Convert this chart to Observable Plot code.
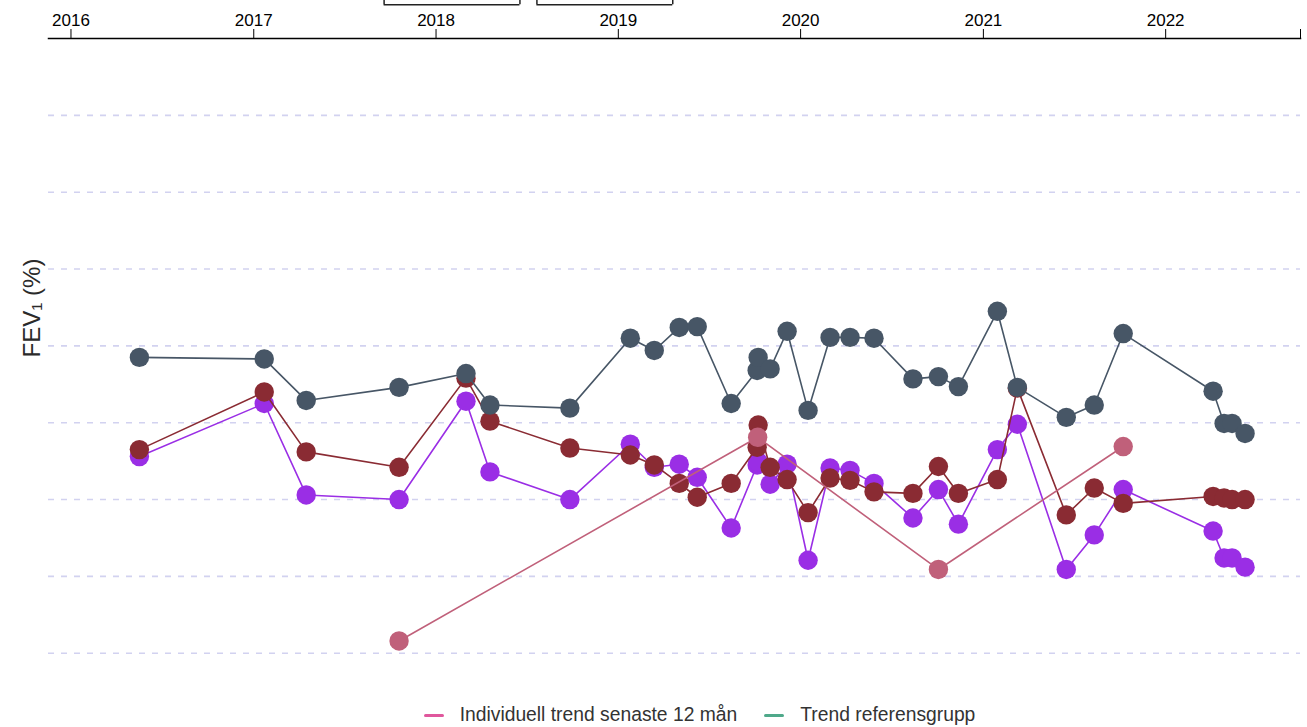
<!DOCTYPE html>
<html>
<head>
<meta charset="utf-8">
<script src="https://cdn.jsdelivr.net/npm/d3@7"></script>
<script src="https://cdn.jsdelivr.net/npm/@observablehq/plot@0.6"></script>
<style>
  html, body { margin: 0; padding: 0; background: #fff; }
  body { width: 1307px; font-family: "Liberation Sans", Arial, sans-serif; }
  #legend { display: flex; justify-content: center; align-items: center; gap: 27px;
            margin-left: 92px; margin-top: 3px; font-size: 19.3px; color: #333; height: 24px; }
  .item { display: flex; align-items: center; gap: 16px; }
  .sw { width: 20px; height: 3px; border-radius: 2px; display: inline-block; }
</style>
</head>
<body>
<div id="chart"></div>
<div id="legend"></div>
<script>
// Measurement dates
const dates = ["2016-05-17","2017-01-22","2017-04-16","2017-10-19","2018-03-02","2018-04-19",
  "2018-09-26","2019-01-25","2019-03-14","2019-05-03","2019-06-08","2019-08-15","2019-10-06",
  "2019-10-08","2019-11-01","2019-12-05","2020-01-16","2020-02-29","2020-04-09","2020-05-27",
  "2020-08-13","2020-10-03","2020-11-12","2021-01-29","2021-03-10","2021-06-16","2021-08-11",
  "2021-10-08","2022-04-06","2022-04-28","2022-05-14","2022-06-09"];
// Series values (FEV1 %)
const grayValues = [78.5,78.3,72.9,74.6,76.4,72.3,71.9,81.0,79.4,82.4,82.5,72.5,76.8,78.5,77.0,81.9,
  71.6,81.1,81.1,81.0,75.7,76.0,74.7,84.5,74.6,70.7,72.3,81.6,74.1,69.9,69.9,68.6];
const redValues = [66.5,74.0,66.2,64.2,75.8,70.2,66.7,65.8,64.5,62.1,60.3,62.1,66.8,69.7,64.2,62.6,
  58.3,62.8,62.5,61.0,60.8,64.3,60.8,62.6,74.5,58.0,61.5,59.5,60.4,60.2,60.0,60.0];
const purpleValues = [65.6,72.5,60.6,60.0,72.8,63.6,60.0,67.2,64.2,64.6,62.9,56.3,64.5,64.9,62.0,64.6,
  52.1,64.1,63.8,62.1,57.6,61.3,56.8,66.5,69.8,50.9,55.4,61.3,55.9,52.4,52.4,51.2];
// Pink series
const pinkDates = ["2017-10-19","2019-10-07","2020-10-03","2021-10-08"];
const pinkValues = [41.6,68.1,50.9,66.9];
// Period brackets above the axis
const periodStarts = ["2017-09-19","2018-07-22"];
const periodEnds = ["2018-06-18","2019-04-20"];
// Grid and axis ticks
const gridValues = [40,50,60,70,80,90,100,110];
const yearTicks = ["2016","2017","2018","2019","2020","2021","2022"];
const xDomain = ["2015-11-17","2022-09-28"];
const yDomain = [34.5, 120];
// Legend
const legendLabels = ["Individuell trend senaste 12 mån","Trend referensgrupp"];
const legendColors = ["#e0579d","#4fa98a"];

const parse = d3.utcParse("%Y-%m-%d");
const mk = (vals) => dates.map((d, i) => ({date: parse(d), value: vals[i]}));
const gray = mk(grayValues), red = mk(redValues), purple = mk(purpleValues);
const pink = pinkDates.map((d, i) => ({date: parse(d), value: pinkValues[i]}));
const periods = periodStarts.map((s, i) => ({start: parse(s), end: parse(periodEnds[i])}));
const xd = xDomain.map(parse);
const ticks = yearTicks.map(y => d3.utcParse("%Y")(y)).concat([xd[1]]);

const C = {gray: "#475666", red: "#8a2b33", purple: "#9a2ee5", pink: "#c0607a"};
const series = (data, color) => [
  Plot.line(data, {x: "date", y: "value", stroke: color, strokeWidth: 1.6}),
  Plot.dot(data, {x: "date", y: "value", fill: color, r: 9.7})
];

const chart = Plot.plot({
  width: 1307,
  height: 700,
  marginTop: 38,
  marginBottom: 5,
  marginLeft: 48,
  marginRight: 7,
  style: {fontFamily: "'Liberation Sans', Arial, sans-serif", background: "#fff", color: "#000", fontSize: "17px"},
  x: {type: "utc", domain: xd},
  y: {domain: yDomain},
  marks: [
    Plot.gridY(gridValues, {stroke: "#d2d2f0", strokeOpacity: 1, strokeDasharray: "6,7", strokeWidth: 1.6}),
    Plot.axisX(ticks, {anchor: "top", tickSize: 10, tickPadding: 3, fontSize: 17,
      tickFormat: d => d.getUTCMonth() === 0 && d.getUTCDate() === 1 ? d3.utcFormat("%Y")(d) : "",
      label: null, stroke: "#000"}),
    Plot.axisY({ticks: [], label: null}),
    Plot.frame({anchor: "top", stroke: "#000", strokeWidth: 1.5}),
    Plot.ruleY(periods, {x1: "start", x2: "end", y: 124.4, stroke: "#222", strokeWidth: 1.5, clip: false}),
    Plot.ruleX(periods, {x: "start", y1: 124.4, y2: 125.2, stroke: "#222", strokeWidth: 1.5, clip: false}),
    Plot.ruleX(periods, {x: "end", y1: 124.4, y2: 125.2, stroke: "#222", strokeWidth: 1.5, clip: false}),
    Plot.text(["FEV₁ (%)"], {frameAnchor: "left", textAnchor: "middle", rotate: -90, dx: -16, dy: -59, fontSize: 24, fill: "#2a2a2a"}),
    ...series(purple, C.purple),
    ...series(red, C.red),
    ...series(gray, C.gray),
    ...series(pink, C.pink)
  ]
});
document.getElementById("chart").append(chart);

const leg = document.getElementById("legend");
legendLabels.forEach((l, i) => {
  const it = document.createElement("div");
  it.className = "item";
  it.innerHTML = `<span class="sw" style="background:${legendColors[i]}"></span><span>${l}</span>`;
  leg.append(it);
});
</script>
</body>
</html>
